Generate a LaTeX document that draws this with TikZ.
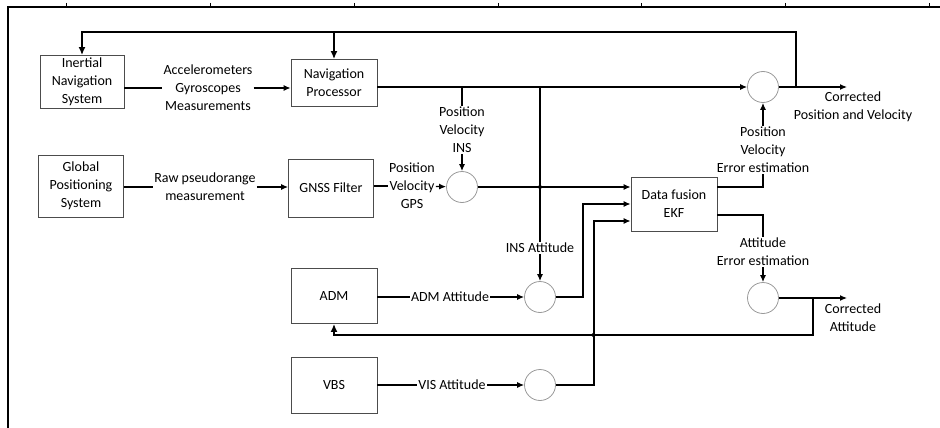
\documentclass[tikz,border=0pt]{standalone}
\usepackage{fontspec}
\setmainfont{Carlito}
\usetikzlibrary{arrows.meta}
\begin{document}
\begin{tikzpicture}[x=1pt, y=-1pt, font=\fontsize{14}{18}\selectfont,
	every node/.style={align=center, inner sep=1pt},
	blk/.style={draw=black!70, line width=0.8pt, minimum width=86pt, minimum height=52pt},
	sumnode/.style={circle, draw=black!40, line width=0.8pt, minimum size=31pt, inner sep=0pt},
	lbl/.style={fill=white},
	wire/.style={line width=1.2pt},
	flow/.style={line width=1.2pt, -{Latex[length=7pt, width=6pt]}},
	fb/.style={line width=2pt, -{Latex[length=8pt, width=7pt]}}]
	\useasboundingbox (0,0) rectangle (940,428);
	% frame of the page
	\draw[line width=1.6pt] (8,428) -- (8,7) -- (940,7);
	\foreach \tx in {66,210,354,498,641,785,929}
		\draw[line width=0.6pt] (\tx,3) -- (\tx,7);
	% blocks
	\node[blk, minimum width=84pt, minimum height=53pt] (ins) at (82,82) {Inertial\\Navigation\\System};
	\node[blk, minimum height=47pt] (nav) at (334,83) {Navigation\\Processor};
	\node[blk, minimum width=85pt, minimum height=62pt] (gps) at (81,186) {Global\\Positioning\\System};
	\node[blk, minimum width=85pt, minimum height=58pt] (gnss) at (331,188) {GNSS Filter};
	\node[blk, minimum height=54pt] (ekf) at (674,204) {Data fusion\\EKF};
	\node[blk, minimum height=55pt] (adm) at (334,296) {ADM};
	\node[blk, minimum height=56pt] (vbs) at (334,385) {VBS};
	% summing circles
	\node[sumnode] (spv) at (763,87) {};
	\node[sumnode] (sgps) at (462,187) {};
	\node[sumnode] (sins) at (540,297) {};
	\node[sumnode] (svis) at (540,385) {};
	\node[sumnode] (satt) at (763,298) {};
	% labels
	\node[lbl] (accel) at (208,88) {Accelerometers\\Gyroscopes\\Measurements};
	\node[lbl] (raw) at (205,187) {Raw pseudorange\\measurement};
	\node[lbl] (pvgps) at (412,186) {Position\\Velocity\\GPS};
	\node[lbl] (pvins) at (462,130) {Position\\Velocity\\INS};
	\node[lbl] (insatt) at (540,248) {INS Attitude};
	\node[lbl] (admatt) at (450,297) {ADM Attitude};
	\node[lbl] (visatt) at (452,385) {VIS Attitude};
	\node[lbl] (pverr) at (763,150) {Position\\Velocity\\Error estimation};
	\node[lbl] (atterr) at (763,252) {Attitude\\Error estimation};
	\node (cpv) at (853,107) {Corrected\\Position and Velocity};
	\node (catt) at (853,318) {Corrected\\Attitude};
	\coordinate (outpv) at (847,87);
	\coordinate (outatt) at (847,298);
	\coordinate (fbR) at (796,87);
	\coordinate (fbT) at (796,32);
	\coordinate (fbA) at (813,298);
	\coordinate (fbB) at (813,335);
	% INS and GNSS chains
	\draw[wire] (ins.east |- accel) -- (accel);
	\draw[flow] (accel) -- (nav.west |- accel);
	\draw[wire] (gps.east |- raw) -- (raw);
	\draw[flow] (raw) -- (gnss.west |- raw);
	\draw[wire] (gnss.east |- pvgps) -- (pvgps);
	\draw[flow] (pvgps) -- (sgps);
	\draw[flow] (nav.east |- spv) -- (spv);
	\draw[wire] (pvins.north |- spv) -- (pvins);
	\draw[flow] (pvins) -- (sgps);
	\draw[wire] (sins.north |- spv) -- (insatt);
	\draw[flow] (insatt) -- (sins);
	\fill (sins.north |- sgps) circle (2pt);
	% attitude chains
	\draw[wire] (adm.east |- admatt) -- (admatt);
	\draw[flow] (admatt) -- (sins);
	\draw[wire] (vbs) -- (visatt);
	\draw[flow] (visatt) -- (svis);
	% into the filter
	\draw[flow] (sgps) -- (sgps -| ekf.west);
	\draw[flow] (sins.east) -- ++(27,0) |- (ekf.west);
	\draw[flow] (svis.east) -- ++(38,0) |- ([yshift=-17pt]ekf.west);
	% out of the filter
	\draw[wire] (sgps -| ekf.east) -| (pverr);
	\draw[flow] (pverr) -- (spv);
	\draw[wire] ([yshift=-11pt]ekf.east) -| (atterr);
	\draw[flow] (atterr) -- (satt);
	\draw[flow] (spv) -- (outpv);
	\draw[flow] (satt) -- (outatt);
	% feedback
	\draw[fb] (fbR) -- (fbT) -| (ins.north);
	\draw[fb] (nav.north |- fbT) -- (nav.north);
	\draw[fb] (fbA) -- (fbB) -| (adm.south);
	\fill (593.5,335) circle (2pt);
\end{tikzpicture}
\end{document}
